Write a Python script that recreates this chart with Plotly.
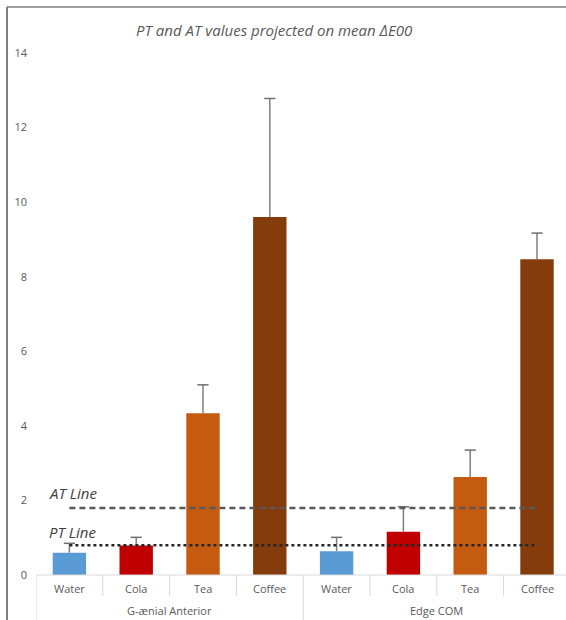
import plotly.graph_objects as go

groups = ["G-ænial Anterior", "G-ænial Anterior", "G-ænial Anterior", "G-ænial Anterior",
          "Edge COM", "Edge COM", "Edge COM", "Edge COM"]
drinks = ["Water", "Cola", "Tea", "Coffee", "Water", "Cola", "Tea", "Coffee"]
mean_de00 = [0.60, 0.79, 4.34, 9.60, 0.64, 1.16, 2.63, 8.47]
err_plus = [0.25, 0.22, 0.76, 3.18, 0.37, 0.67, 0.72, 0.70]
at_line = [1.8] * 8
pt_line = [0.8] * 8
drink_colors = {"Water": "#5B9BD5", "Cola": "#C00000", "Tea": "#C55A11", "Coffee": "#843C0C"}
yticks = [0, 2, 4, 6, 8, 10, 12, 14]

xi = list(range(len(drinks)))
W, H = 566, 620
L, R, T, B = 36, 0, 53, 45
pw, ph = W - L - R, H - T - B
cat_px = 66.8
xr = [-0.5, -0.5 + pw / cat_px]

def px2paper_x(px):
    return (px - L) / pw

def py2paper_y(py):
    return (H - B - py) / ph

fig = go.Figure()
fig.add_trace(go.Bar(
    x=xi, y=mean_de00, width=0.5,
    marker=dict(color=[drink_colors[d] for d in drinks], line=dict(width=0)),
    showlegend=False,
))
tops = [m + e for m, e in zip(mean_de00, err_plus)]
fig.add_trace(go.Scatter(
    x=xi, y=tops, mode="markers",
    marker=dict(symbol="line-ew", size=8, line=dict(color="#6f6f6f", width=1.5)),
    error_y=dict(type="data", symmetric=False, array=[0] * 8, arrayminus=err_plus,
                 color="#7f7f7f", thickness=1.5, width=0),
    showlegend=False,
))
fig.add_trace(go.Scatter(x=xi, y=at_line, mode="lines",
                         line=dict(color="#595959", width=2.5, dash="6px,4px"), showlegend=False))
fig.add_trace(go.Scatter(x=xi, y=pt_line, mode="lines",
                         line=dict(color="#262626", width=2.5, dash="dot"), showlegend=False))

shapes = []
shapes.append(dict(type="line", xref="paper", yref="paper", x0=0, x1=1, y0=0, y1=0,
                   line=dict(color="#d9d9d9", width=1)))
for i in range(len(drinks)):
    b = i - 0.5
    is_group = (i == 0) or (groups[i] != groups[i - 1])
    y1 = py2paper_y(620) if is_group else py2paper_y(596)
    shapes.append(dict(type="line", xref="x", yref="paper", x0=b, x1=b, y0=0, y1=y1,
                       line=dict(color="#d9d9d9", width=1)))
shapes.append(dict(type="line", xref="paper", yref="paper",
                   x0=px2paper_x(7), x1=px2paper_x(7), y0=py2paper_y(7), y1=py2paper_y(620),
                   line=dict(color="#7f7f7f", width=2)))
shapes.append(dict(type="line", xref="paper", yref="paper",
                   x0=px2paper_x(7), x1=px2paper_x(566), y0=py2paper_y(7), y1=py2paper_y(7),
                   line=dict(color="#7f7f7f", width=1.5)))

annotations = []
for i, d in enumerate(drinks):
    annotations.append(dict(x=i, y=py2paper_y(588), xref="x", yref="paper", text=d,
                            showarrow=False, font=dict(size=11, color="#595959"),
                            xanchor="center", yanchor="middle"))
seen = []
for g in groups:
    if g not in seen:
        seen.append(g)
for g in seen:
    idx = [i for i, gg in enumerate(groups) if gg == g]
    annotations.append(dict(x=sum(idx) / len(idx), y=py2paper_y(610), xref="x", yref="paper",
                            text=g, showarrow=False, font=dict(size=11, color="#595959"),
                            xanchor="center", yanchor="middle"))
annotations.append(dict(x=-0.34, y=2.2, xref="x", yref="y", text="<i>AT Line</i>", showarrow=False,
                        font=dict(size=15, color="#404040"), xanchor="left", yanchor="middle"))
annotations.append(dict(x=-0.34, y=1.15, xref="x", yref="y", text="<i>PT Line</i>", showarrow=False,
                        font=dict(size=15, color="#404040"), xanchor="left", yanchor="middle"))
annotations.append(dict(x=px2paper_x(274), y=py2paper_y(30), xref="paper", yref="paper",
                        text="<i>PT and AT values projected on mean ΔE00</i>", showarrow=False,
                        font=dict(size=15, color="#595959"), xanchor="center", yanchor="middle"))

fig.update_layout(
    width=W, height=H,
    margin=dict(l=L, r=R, t=T, b=B, pad=0),
    paper_bgcolor="white", plot_bgcolor="white",
    font=dict(family="Open Sans, Liberation Sans, sans-serif", color="#595959"),
    xaxis=dict(range=xr, showticklabels=False, showgrid=False, zeroline=False, showline=False,
               ticks=""),
    yaxis=dict(range=[0, 14], tickvals=yticks, showgrid=False, zeroline=False, showline=False,
               tickfont=dict(size=11, color="#595959"), ticks="", ticklabelstandoff=8),
    shapes=shapes, annotations=annotations, bargap=0.5, hovermode=False,
)
fig.write_html("out.html", config={"displayModeBar": False},
               post_script="document.body.style.margin='0';document.body.style.overflow='hidden';")
